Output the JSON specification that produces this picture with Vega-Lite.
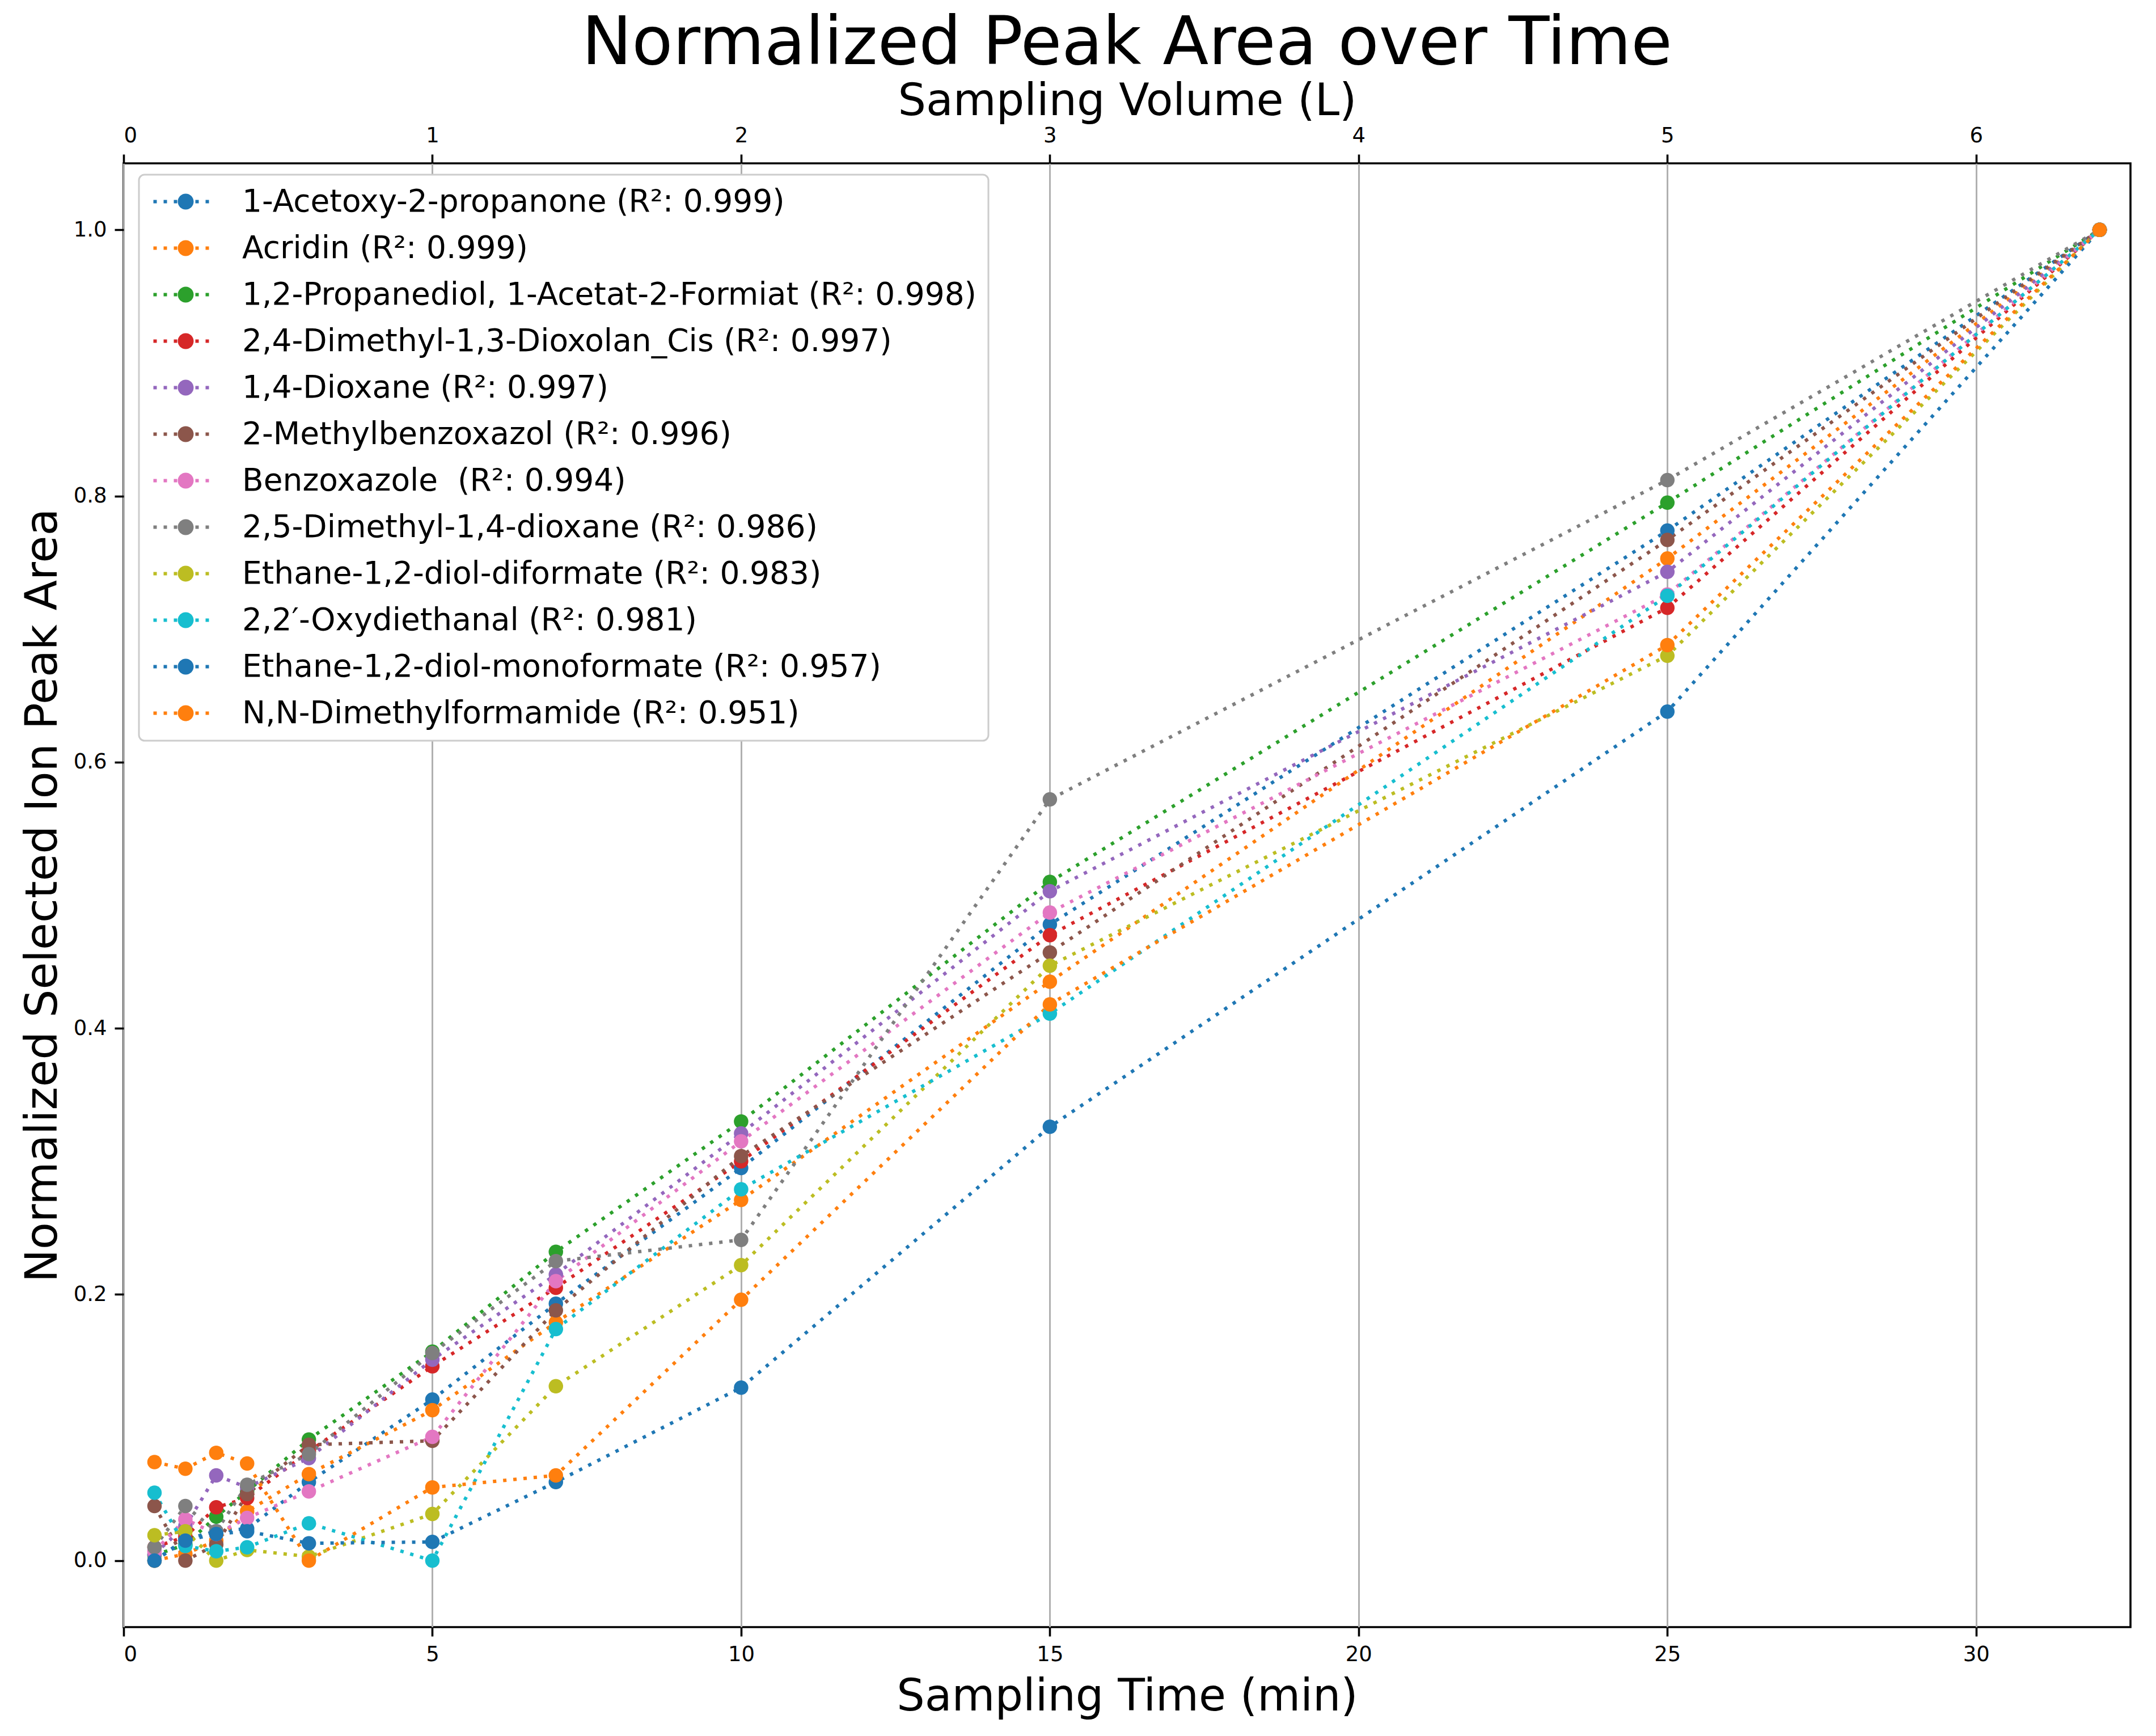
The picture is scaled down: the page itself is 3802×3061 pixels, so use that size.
{
  "$schema": "https://vega.github.io/schema/vega-lite/v6.json",
  "width": 3539,
  "height": 2581,
  "autosize": {"type": "none"},
  "padding": {"left": 218, "top": 288, "right": 45, "bottom": 192},
  "background": "white",
  "title": {
    "text": "Normalized Peak Area over Time",
    "font": "DejaVu Sans",
    "fontSize": 118,
    "fontWeight": "normal",
    "color": "black",
    "anchor": "middle",
    "offset": 2
  },
  "config": {
    "view": {"stroke": "black", "strokeWidth": 3.6},
    "axis": {
      "domain": false,
      "grid": false,
      "tickColor": "black",
      "tickWidth": 3.6,
      "tickSize": 16,
      "labelFont": "DejaVu Sans",
      "labelFontSize": 37,
      "labelColor": "black",
      "labelPadding": 14,
      "titleFont": "DejaVu Sans",
      "titleFontSize": 78,
      "titleFontWeight": "normal",
      "titleColor": "black"
    },
    "legend": {
      "orient": "none",
      "legendX": 27,
      "legendY": 20,
      "padding": 20,
      "strokeColor": "#cccccc",
      "strokeWidth": 3,
      "cornerRadius": 10,
      "fillColor": "white",
      "labelFont": "DejaVu Sans",
      "labelFontSize": 55,
      "labelColor": "black",
      "labelLimit": 3000,
      "labelOffset": 72,
      "rowPadding": 26,
      "symbolType": "M-2.28,-0.12h0.24v0.24h-0.24ZM-1.56,-0.12h0.24v0.24h-0.24ZM-0.84,-0.12h0.24v0.24h-0.24ZM0.68,-0.12h0.24v0.24h-0.24ZM1.4,-0.12h0.24v0.24h-0.24ZM-0.56,0A0.56,0.56 0 1 0 0.56,0A0.56,0.56 0 1 0 -0.56,0Z",
      "symbolSize": 2500,
      "symbolOffset": 35,
      "symbolStrokeWidth": 0
    }
  },
  "data": {
    "values": [
      {"compound": "\u00a01-Acetoxy-2-propanone (R²: 0.999)", "time": 0.5, "area": 0.0},
      {"compound": "\u00a01-Acetoxy-2-propanone (R²: 0.999)", "time": 1, "area": 0.016},
      {"compound": "\u00a01-Acetoxy-2-propanone (R²: 0.999)", "time": 1.5, "area": 0.022},
      {"compound": "\u00a01-Acetoxy-2-propanone (R²: 0.999)", "time": 2, "area": 0.024},
      {"compound": "\u00a01-Acetoxy-2-propanone (R²: 0.999)", "time": 3, "area": 0.059},
      {"compound": "\u00a01-Acetoxy-2-propanone (R²: 0.999)", "time": 5, "area": 0.121},
      {"compound": "\u00a01-Acetoxy-2-propanone (R²: 0.999)", "time": 7, "area": 0.193},
      {"compound": "\u00a01-Acetoxy-2-propanone (R²: 0.999)", "time": 10, "area": 0.295},
      {"compound": "\u00a01-Acetoxy-2-propanone (R²: 0.999)", "time": 15, "area": 0.478},
      {"compound": "\u00a01-Acetoxy-2-propanone (R²: 0.999)", "time": 25, "area": 0.774},
      {"compound": "\u00a01-Acetoxy-2-propanone (R²: 0.999)", "time": 32, "area": 1.0},

      {"compound": "Acridin (R²: 0.999)", "time": 0.5, "area": 0.0},
      {"compound": "Acridin (R²: 0.999)", "time": 1, "area": 0.005},
      {"compound": "Acridin (R²: 0.999)", "time": 1.5, "area": 0.015},
      {"compound": "Acridin (R²: 0.999)", "time": 2, "area": 0.037},
      {"compound": "Acridin (R²: 0.999)", "time": 3, "area": 0.065},
      {"compound": "Acridin (R²: 0.999)", "time": 5, "area": 0.113},
      {"compound": "Acridin (R²: 0.999)", "time": 7, "area": 0.179},
      {"compound": "Acridin (R²: 0.999)", "time": 10, "area": 0.271},
      {"compound": "Acridin (R²: 0.999)", "time": 15, "area": 0.435},
      {"compound": "Acridin (R²: 0.999)", "time": 25, "area": 0.753},
      {"compound": "Acridin (R²: 0.999)", "time": 32, "area": 1.0},

      {"compound": "1,2-Propanediol, 1-Acetat-2-Formiat (R²: 0.998)", "time": 0.5, "area": 0.004},
      {"compound": "1,2-Propanediol, 1-Acetat-2-Formiat (R²: 0.998)", "time": 1, "area": 0.012},
      {"compound": "1,2-Propanediol, 1-Acetat-2-Formiat (R²: 0.998)", "time": 1.5, "area": 0.033},
      {"compound": "1,2-Propanediol, 1-Acetat-2-Formiat (R²: 0.998)", "time": 2, "area": 0.052},
      {"compound": "1,2-Propanediol, 1-Acetat-2-Formiat (R²: 0.998)", "time": 3, "area": 0.091},
      {"compound": "1,2-Propanediol, 1-Acetat-2-Formiat (R²: 0.998)", "time": 5, "area": 0.157},
      {"compound": "1,2-Propanediol, 1-Acetat-2-Formiat (R²: 0.998)", "time": 7, "area": 0.232},
      {"compound": "1,2-Propanediol, 1-Acetat-2-Formiat (R²: 0.998)", "time": 10, "area": 0.330},
      {"compound": "1,2-Propanediol, 1-Acetat-2-Formiat (R²: 0.998)", "time": 15, "area": 0.510},
      {"compound": "1,2-Propanediol, 1-Acetat-2-Formiat (R²: 0.998)", "time": 25, "area": 0.795},
      {"compound": "1,2-Propanediol, 1-Acetat-2-Formiat (R²: 0.998)", "time": 32, "area": 1.0},

      {"compound": "2,4-Dimethyl-1,3-Dioxolan_Cis (R²: 0.997)", "time": 0.5, "area": 0.010},
      {"compound": "2,4-Dimethyl-1,3-Dioxolan_Cis (R²: 0.997)", "time": 1, "area": 0.018},
      {"compound": "2,4-Dimethyl-1,3-Dioxolan_Cis (R²: 0.997)", "time": 1.5, "area": 0.040},
      {"compound": "2,4-Dimethyl-1,3-Dioxolan_Cis (R²: 0.997)", "time": 2, "area": 0.047},
      {"compound": "2,4-Dimethyl-1,3-Dioxolan_Cis (R²: 0.997)", "time": 3, "area": 0.082},
      {"compound": "2,4-Dimethyl-1,3-Dioxolan_Cis (R²: 0.997)", "time": 5, "area": 0.146},
      {"compound": "2,4-Dimethyl-1,3-Dioxolan_Cis (R²: 0.997)", "time": 7, "area": 0.205},
      {"compound": "2,4-Dimethyl-1,3-Dioxolan_Cis (R²: 0.997)", "time": 10, "area": 0.300},
      {"compound": "2,4-Dimethyl-1,3-Dioxolan_Cis (R²: 0.997)", "time": 15, "area": 0.470},
      {"compound": "2,4-Dimethyl-1,3-Dioxolan_Cis (R²: 0.997)", "time": 25, "area": 0.716},
      {"compound": "2,4-Dimethyl-1,3-Dioxolan_Cis (R²: 0.997)", "time": 32, "area": 1.0},

      {"compound": "1,4-Dioxane (R²: 0.997)", "time": 0.5, "area": 0.005},
      {"compound": "1,4-Dioxane (R²: 0.997)", "time": 1, "area": 0.026},
      {"compound": "1,4-Dioxane (R²: 0.997)", "time": 1.5, "area": 0.064},
      {"compound": "1,4-Dioxane (R²: 0.997)", "time": 2, "area": 0.055},
      {"compound": "1,4-Dioxane (R²: 0.997)", "time": 3, "area": 0.077},
      {"compound": "1,4-Dioxane (R²: 0.997)", "time": 5, "area": 0.151},
      {"compound": "1,4-Dioxane (R²: 0.997)", "time": 7, "area": 0.215},
      {"compound": "1,4-Dioxane (R²: 0.997)", "time": 10, "area": 0.321},
      {"compound": "1,4-Dioxane (R²: 0.997)", "time": 15, "area": 0.503},
      {"compound": "1,4-Dioxane (R²: 0.997)", "time": 25, "area": 0.743},
      {"compound": "1,4-Dioxane (R²: 0.997)", "time": 32, "area": 1.0},

      {"compound": "2-Methylbenzoxazol (R²: 0.996)", "time": 0.5, "area": 0.041},
      {"compound": "2-Methylbenzoxazol (R²: 0.996)", "time": 1, "area": 0.0},
      {"compound": "2-Methylbenzoxazol (R²: 0.996)", "time": 1.5, "area": 0.012},
      {"compound": "2-Methylbenzoxazol (R²: 0.996)", "time": 2, "area": 0.050},
      {"compound": "2-Methylbenzoxazol (R²: 0.996)", "time": 3, "area": 0.087},
      {"compound": "2-Methylbenzoxazol (R²: 0.996)", "time": 5, "area": 0.090},
      {"compound": "2-Methylbenzoxazol (R²: 0.996)", "time": 7, "area": 0.188},
      {"compound": "2-Methylbenzoxazol (R²: 0.996)", "time": 10, "area": 0.304},
      {"compound": "2-Methylbenzoxazol (R²: 0.996)", "time": 15, "area": 0.457},
      {"compound": "2-Methylbenzoxazol (R²: 0.996)", "time": 25, "area": 0.767},
      {"compound": "2-Methylbenzoxazol (R²: 0.996)", "time": 32, "area": 1.0},

      {"compound": "Benzoxazole\u00a0 (R²: 0.994)", "time": 0.5, "area": 0.007},
      {"compound": "Benzoxazole\u00a0 (R²: 0.994)", "time": 1, "area": 0.031},
      {"compound": "Benzoxazole\u00a0 (R²: 0.994)", "time": 1.5, "area": 0.020},
      {"compound": "Benzoxazole\u00a0 (R²: 0.994)", "time": 2, "area": 0.032},
      {"compound": "Benzoxazole\u00a0 (R²: 0.994)", "time": 3, "area": 0.052},
      {"compound": "Benzoxazole\u00a0 (R²: 0.994)", "time": 5, "area": 0.093},
      {"compound": "Benzoxazole\u00a0 (R²: 0.994)", "time": 7, "area": 0.210},
      {"compound": "Benzoxazole\u00a0 (R²: 0.994)", "time": 10, "area": 0.315},
      {"compound": "Benzoxazole\u00a0 (R²: 0.994)", "time": 15, "area": 0.487},
      {"compound": "Benzoxazole\u00a0 (R²: 0.994)", "time": 25, "area": 0.726},
      {"compound": "Benzoxazole\u00a0 (R²: 0.994)", "time": 32, "area": 1.0},

      {"compound": "2,5-Dimethyl-1,4-dioxane (R²: 0.986)", "time": 0.5, "area": 0.010},
      {"compound": "2,5-Dimethyl-1,4-dioxane (R²: 0.986)", "time": 1, "area": 0.041},
      {"compound": "2,5-Dimethyl-1,4-dioxane (R²: 0.986)", "time": 1.5, "area": 0.022},
      {"compound": "2,5-Dimethyl-1,4-dioxane (R²: 0.986)", "time": 2, "area": 0.057},
      {"compound": "2,5-Dimethyl-1,4-dioxane (R²: 0.986)", "time": 3, "area": 0.080},
      {"compound": "2,5-Dimethyl-1,4-dioxane (R²: 0.986)", "time": 5, "area": 0.156},
      {"compound": "2,5-Dimethyl-1,4-dioxane (R²: 0.986)", "time": 7, "area": 0.225},
      {"compound": "2,5-Dimethyl-1,4-dioxane (R²: 0.986)", "time": 10, "area": 0.241},
      {"compound": "2,5-Dimethyl-1,4-dioxane (R²: 0.986)", "time": 15, "area": 0.572},
      {"compound": "2,5-Dimethyl-1,4-dioxane (R²: 0.986)", "time": 25, "area": 0.812},
      {"compound": "2,5-Dimethyl-1,4-dioxane (R²: 0.986)", "time": 32, "area": 1.0},

      {"compound": "Ethane-1,2-diol-diformate (R²: 0.983)", "time": 0.5, "area": 0.019},
      {"compound": "Ethane-1,2-diol-diformate (R²: 0.983)", "time": 1, "area": 0.022},
      {"compound": "Ethane-1,2-diol-diformate (R²: 0.983)", "time": 1.5, "area": 0.0},
      {"compound": "Ethane-1,2-diol-diformate (R²: 0.983)", "time": 2, "area": 0.008},
      {"compound": "Ethane-1,2-diol-diformate (R²: 0.983)", "time": 3, "area": 0.003},
      {"compound": "Ethane-1,2-diol-diformate (R²: 0.983)", "time": 5, "area": 0.035},
      {"compound": "Ethane-1,2-diol-diformate (R²: 0.983)", "time": 7, "area": 0.131},
      {"compound": "Ethane-1,2-diol-diformate (R²: 0.983)", "time": 10, "area": 0.222},
      {"compound": "Ethane-1,2-diol-diformate (R²: 0.983)", "time": 15, "area": 0.447},
      {"compound": "Ethane-1,2-diol-diformate (R²: 0.983)", "time": 25, "area": 0.680},
      {"compound": "Ethane-1,2-diol-diformate (R²: 0.983)", "time": 32, "area": 1.0},

      {"compound": "2,2′-Oxydiethanal (R²: 0.981)", "time": 0.5, "area": 0.051},
      {"compound": "2,2′-Oxydiethanal (R²: 0.981)", "time": 1, "area": 0.011},
      {"compound": "2,2′-Oxydiethanal (R²: 0.981)", "time": 1.5, "area": 0.007},
      {"compound": "2,2′-Oxydiethanal (R²: 0.981)", "time": 2, "area": 0.010},
      {"compound": "2,2′-Oxydiethanal (R²: 0.981)", "time": 3, "area": 0.028},
      {"compound": "2,2′-Oxydiethanal (R²: 0.981)", "time": 5, "area": 0.0},
      {"compound": "2,2′-Oxydiethanal (R²: 0.981)", "time": 7, "area": 0.174},
      {"compound": "2,2′-Oxydiethanal (R²: 0.981)", "time": 10, "area": 0.279},
      {"compound": "2,2′-Oxydiethanal (R²: 0.981)", "time": 15, "area": 0.411},
      {"compound": "2,2′-Oxydiethanal (R²: 0.981)", "time": 25, "area": 0.725},
      {"compound": "2,2′-Oxydiethanal (R²: 0.981)", "time": 32, "area": 1.0},

      {"compound": "Ethane-1,2-diol-monoformate (R²: 0.957)", "time": 0.5, "area": 0.0},
      {"compound": "Ethane-1,2-diol-monoformate (R²: 0.957)", "time": 1, "area": 0.015},
      {"compound": "Ethane-1,2-diol-monoformate (R²: 0.957)", "time": 1.5, "area": 0.020},
      {"compound": "Ethane-1,2-diol-monoformate (R²: 0.957)", "time": 2, "area": 0.022},
      {"compound": "Ethane-1,2-diol-monoformate (R²: 0.957)", "time": 3, "area": 0.013},
      {"compound": "Ethane-1,2-diol-monoformate (R²: 0.957)", "time": 5, "area": 0.014},
      {"compound": "Ethane-1,2-diol-monoformate (R²: 0.957)", "time": 7, "area": 0.059},
      {"compound": "Ethane-1,2-diol-monoformate (R²: 0.957)", "time": 10, "area": 0.130},
      {"compound": "Ethane-1,2-diol-monoformate (R²: 0.957)", "time": 15, "area": 0.326},
      {"compound": "Ethane-1,2-diol-monoformate (R²: 0.957)", "time": 25, "area": 0.638},
      {"compound": "Ethane-1,2-diol-monoformate (R²: 0.957)", "time": 32, "area": 1.0},

      {"compound": "N,N-Dimethylformamide (R²: 0.951)", "time": 0.5, "area": 0.074},
      {"compound": "N,N-Dimethylformamide (R²: 0.951)", "time": 1, "area": 0.069},
      {"compound": "N,N-Dimethylformamide (R²: 0.951)", "time": 1.5, "area": 0.081},
      {"compound": "N,N-Dimethylformamide (R²: 0.951)", "time": 2, "area": 0.073},
      {"compound": "N,N-Dimethylformamide (R²: 0.951)", "time": 3, "area": 0.0},
      {"compound": "N,N-Dimethylformamide (R²: 0.951)", "time": 5, "area": 0.055},
      {"compound": "N,N-Dimethylformamide (R²: 0.951)", "time": 7, "area": 0.064},
      {"compound": "N,N-Dimethylformamide (R²: 0.951)", "time": 10, "area": 0.196},
      {"compound": "N,N-Dimethylformamide (R²: 0.951)", "time": 15, "area": 0.418},
      {"compound": "N,N-Dimethylformamide (R²: 0.951)", "time": 25, "area": 0.688},
      {"compound": "N,N-Dimethylformamide (R²: 0.951)", "time": 32, "area": 1.0}
    ]
  },
  "encoding": {
    "y": {
      "field": "area",
      "type": "quantitative",
      "scale": {"domain": [-0.05, 1.05], "nice": false, "zero": false},
      "axis": {
        "values": [0, 0.2, 0.4, 0.6, 0.8, 1.0],
        "format": ".1f",
        "title": "Normalized Selected Ion Peak Area",
        "titlePadding": 14
      }
    },
    "color": {
      "field": "compound",
      "type": "nominal",
      "sort": null,
      "scale": {
        "domain": [
          "\u00a01-Acetoxy-2-propanone (R²: 0.999)",
          "Acridin (R²: 0.999)",
          "1,2-Propanediol, 1-Acetat-2-Formiat (R²: 0.998)",
          "2,4-Dimethyl-1,3-Dioxolan_Cis (R²: 0.997)",
          "1,4-Dioxane (R²: 0.997)",
          "2-Methylbenzoxazol (R²: 0.996)",
          "Benzoxazole\u00a0 (R²: 0.994)",
          "2,5-Dimethyl-1,4-dioxane (R²: 0.986)",
          "Ethane-1,2-diol-diformate (R²: 0.983)",
          "2,2′-Oxydiethanal (R²: 0.981)",
          "Ethane-1,2-diol-monoformate (R²: 0.957)",
          "N,N-Dimethylformamide (R²: 0.951)"
        ],
        "range": ["#1f77b4", "#ff7f0e", "#2ca02c", "#d62728", "#9467bd", "#8c564b", "#e377c2", "#7f7f7f", "#bcbd22", "#17becf", "#1f77b4", "#ff7f0e"]
      },
      "legend": {
        "title": null,
        "encode": {
          "symbols": {
            "update": {
              "fill": {"scale": "color", "field": "value"},
              "stroke": {"value": "transparent"},
              "strokeWidth": {"value": 0},
              "opacity": {"value": 1}
            }
          }
        }
      }
    }
  },
  "layer": [
    {
      "mark": {"type": "line", "strokeWidth": 6, "strokeDash": [6, 12], "strokeCap": "butt"},
      "encoding": {
        "x": {
          "field": "time",
          "type": "quantitative",
          "scale": {"domain": [0, 32.5], "nice": false, "zero": false},
          "axis": {
            "orient": "bottom",
            "values": [0, 5, 10, 15, 20, 25, 30],
            "title": "Sampling Time (min)",
            "titlePadding": 18
          }
        }
      }
    },
    {
      "mark": {"type": "point", "filled": true, "opacity": 1, "size": 650},
      "encoding": {
        "x": {
          "field": "time",
          "type": "quantitative",
          "scale": {"domain": [0, 32.5], "nice": false, "zero": false},
          "axis": {
            "orient": "top",
            "values": [0, 5, 10, 15, 20, 25, 30],
            "labelExpr": "format(datum.value / 5, 'd')",
            "title": "Sampling Volume (L)",
            "titlePadding": 2,
            "grid": true,
            "gridColor": "#b0b0b0",
            "gridWidth": 3
          }
        }
      }
    }
  ],
  "resolve": {"axis": {"x": "independent"}}
}
